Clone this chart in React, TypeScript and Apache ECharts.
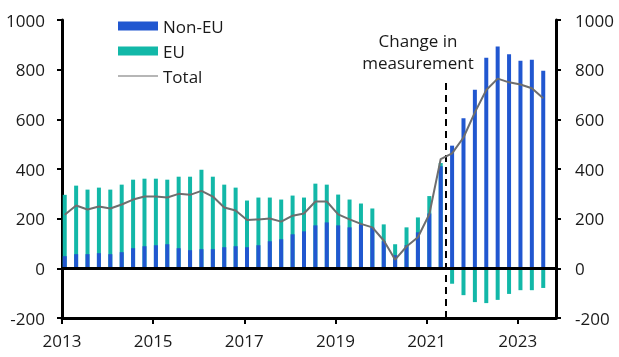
import React, { useEffect, useRef } from "react";
import * as echarts from "echarts";

// Quarterly categories 2013 Q1 .. 2023 Q3
const quarters: string[] = [];
for (let y = 2013; y <= 2023; y++) {
  for (let q = 1; q <= 4; q++) {
    if (y === 2023 && q > 3) break;
    quarters.push(`${y} Q${q}`);
  }
}

const nonEU = [
  49, 57, 57, 61, 57, 65, 81, 89, 93, 97, 81, 73, 77, 77, 85, 89,
  85, 93, 109, 117, 137, 149, 173, 185, 173, 165, 177, 165, 109, 53, 93, 145,
  221, 411, 494, 604, 719, 848, 893, 862, 836, 840, 796,
];
const eu = [
  247, 276, 260, 264, 260, 272, 276, 272, 268, 260, 288, 296, 320, 292, 252, 236,
  188, 192, 176, 160, 156, 136, 168, 152, 124, 112, 84, 76, 68, 44, 72, 60,
  70, 13, -62, -108, -136, -140, -127, -103, -88, -88, -79,
];
const total = [
  216, 253, 237, 249, 241, 257, 277, 289, 289, 285, 300, 296, 312, 289, 245, 233,
  195, 197, 201, 188, 212, 221, 269, 269, 217, 197, 179, 165, 112, 35, 88, 125,
  218, 440, 463, 527, 628, 718, 764, 749, 740, 725, 685,
];

const xTickYears = [2013, 2015, 2017, 2019, 2021, 2023];
const measurementBreak = 2021.43;
const annotation = ["Change in", "measurement"];

const FONT = "'Open Sans', 'Noto Sans', sans-serif";
const BLUE = "#2157d0";
const TEAL = "#12b8a8";
const GREY = "#6e6e6e";

function quarterPos(label: string): number {
  const [y, q] = label.split(" Q");
  return Number(y) + (Number(q) - 1) * 0.25 + 0.06;
}

export default function App() {
  const ref = useRef<HTMLDivElement>(null);
  useEffect(() => {
    if (!ref.current) return;
    const chart = echarts.init(ref.current, undefined, { renderer: "svg" });
    const xs = quarters.map(quarterPos);
    // EU stacks on top of Non-EU when positive, below zero when negative
    const euTop = eu.map((v, i) => (v >= 0 ? nonEU[i] + v : v));
    const yAxisBase = (pos: "left" | "right", margin: number) => ({
      type: "value" as const,
      position: pos,
      min: -200,
      max: 1000,
      interval: 200,
      axisLine: { show: true, onZero: false, lineStyle: { color: "#000", width: 3 } },
      axisTick: { show: true, length: 5, lineStyle: { color: "#000", width: 2 } },
      axisLabel: {
        margin,
        fontSize: 17,
        color: "#1a1a1a",
        fontFamily: FONT,
        formatter: (v: number) => String(v),
      },
      splitLine: { show: false },
    });
    chart.setOption({
      animation: false,
      grid: { left: 62, right: 63, top: 20, bottom: 39, containLabel: false, outerBoundsMode: "none" },
      legend: {
        orient: "vertical",
        left: 113,
        top: 12,
        itemWidth: 40,
        itemHeight: 9,
        itemGap: 7,
        textStyle: { fontSize: 17, lineHeight: 18, color: "#1a1a1a", fontFamily: FONT },
        data: [
          { name: "Non-EU", icon: "rect" },
          { name: "EU", icon: "rect" },
          { name: "Total", icon: "path://M0,0 M0,9 M0,3.9 L40,3.9 L40,5.1 L0,5.1 Z", itemStyle: { color: GREY } },
        ],
      },
      xAxis: {
        type: "value",
        min: 2013,
        max: 2023.84,
        axisLine: { show: true, onZero: false, lineStyle: { color: "#000", width: 3 } },
        axisTick: { show: true, length: 6, customValues: xTickYears, lineStyle: { color: "#000", width: 2 } },
        axisLabel: {
          customValues: xTickYears,
          margin: 14,
          fontSize: 17,
          color: "#1a1a1a",
          fontFamily: FONT,
          formatter: (v: number) => String(Math.round(v)),
        },
        splitLine: { show: false },
      },
      yAxis: [yAxisBase("left", 17), yAxisBase("right", 19)],
      series: [
        {
          name: "EU",
          type: "bar",
          barWidth: 4,
          barGap: "-100%",
          z: 2,
          itemStyle: { color: TEAL },
          data: euTop.map((v, i) => [xs[i], v]),
        },
        {
          name: "Non-EU",
          type: "bar",
          barWidth: 4,
          barGap: "-100%",
          z: 3,
          itemStyle: { color: BLUE },
          data: nonEU.map((v, i) => [xs[i], v]),
          markLine: {
            silent: true,
            symbol: "none",
            label: { show: false },
            lineStyle: { color: "#000", width: 3, type: "solid" },
            data: [{ yAxis: 0 }],
          },
        },
        {
          name: "Total",
          type: "line",
          symbol: "none",
          z: 5,
          lineStyle: { color: GREY, width: 2 },
          itemStyle: { color: GREY },
          data: total.map((v, i) => [xs[i], v]),
          markLine: {
            silent: true,
            symbol: "none",
            label: { show: false },
            lineStyle: { color: "#000", width: 2, type: [7, 5] },
            data: [[{ coord: [measurementBreak, -200] }, { coord: [measurementBreak, 766] }]],
          },
        },
      ],
      graphic: [
        {
          type: "text",
          x: 418,
          y: 29,
          style: {
            text: annotation.join("\n"),
            textAlign: "center",
            fontSize: 17,
            lineHeight: 22,
            fontFamily: FONT,
            fill: "#1a1a1a",
          },
        },
      ],
    });
    return () => chart.dispose();
  }, []);
  return <div ref={ref} style={{ width: 619, height: 357, position: "fixed", left: 0, top: 0 }} />;
}
